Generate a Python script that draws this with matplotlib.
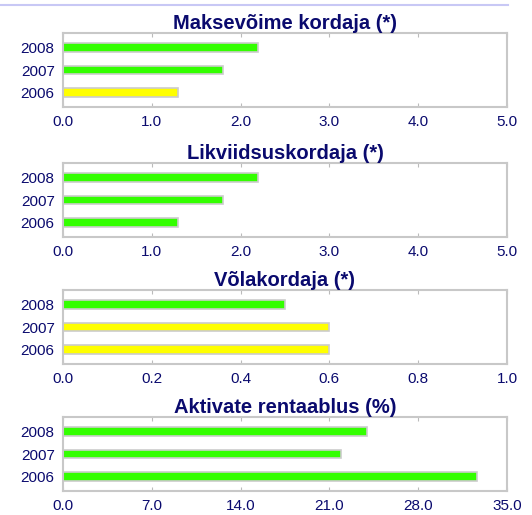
import matplotlib
matplotlib.use("Agg")
import matplotlib.pyplot as plt
from matplotlib.lines import Line2D

plt.rcParams['font.family'] = ['Liberation Sans', 'DejaVu Sans']

years = ['2006', '2007', '2008']
titles = ['Maksevõime kordaja (*)', 'Likviidsuskordaja (*)',
          'Võlakordaja (*)', 'Aktivate rentaablus (%)']
values = [
    [1.3, 1.8, 2.2],
    [1.3, 1.8, 2.2],
    [0.6, 0.6, 0.5],
    [32.6, 21.9, 24.0],
]
colors = [
    ['#ffff00', '#33ff00', '#33ff00'],
    ['#33ff00', '#33ff00', '#33ff00'],
    ['#ffff00', '#ffff00', '#33ff00'],
    ['#33ff00', '#33ff00', '#33ff00'],
]
xticks = [
    [0, 1, 2, 3, 4, 5],
    [0, 1, 2, 3, 4, 5],
    [0, 0.2, 0.4, 0.6, 0.8, 1.0],
    [0, 7, 14, 21, 28, 35],
]

navy = '#0a0a6e'
W, H = 532, 515
fig = plt.figure(figsize=(W / 100, H / 100), dpi=100)

# light blue rule at the top
fig.add_artist(Line2D([0, 508 / W], [1 - 4.5 / H, 1 - 4.5 / H],
                      color='#c8c8f5', lw=1.5, transform=fig.transFigure))

tops = [33, 163, 290, 417]
left, right, height = 63, 507, 74
for i in range(4):
    ax = fig.add_axes([left / W, 1 - (tops[i] + height) / H,
                       (right - left) / W, height / H])
    ax.barh(range(3), values[i], height=0.4, color=colors[i],
            edgecolor='#cccccc', linewidth=1.2)
    ax.set_xlim(xticks[i][0], xticks[i][-1])
    ax.set_ylim(-0.65, 2.65)
    ax.set_xticks(xticks[i])
    ax.set_xticklabels(['%.1f' % t for t in xticks[i]])
    ax.set_yticks(range(3))
    ax.set_yticklabels(years)
    ax.tick_params(axis='x', direction='in', length=3, color='#bbbbbb',
                   top=True, labelsize=11, labelcolor=navy, pad=6)
    ax.tick_params(axis='y', length=0, labelsize=11, labelcolor=navy, pad=6)
    for s in ax.spines.values():
        s.set_color('#c8c8c8')
        s.set_linewidth(1.5)
    ax.set_title(titles[i], fontsize=14.5, fontweight='bold', color=navy, pad=3)

fig.savefig('out.png', dpi=100)
